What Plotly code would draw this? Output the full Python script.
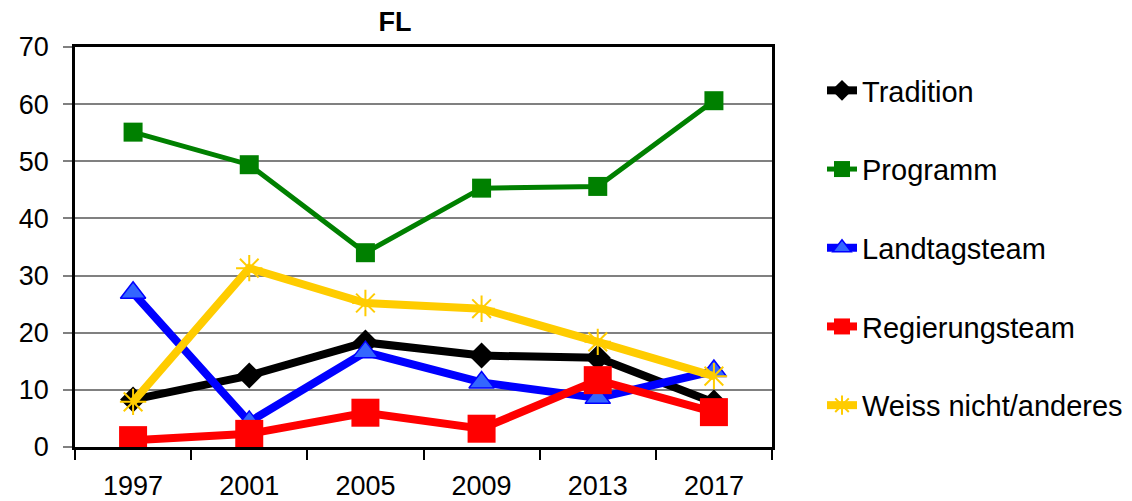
import plotly.graph_objects as go

years = ["1997", "2001", "2005", "2009", "2013", "2017"]
tradition = [8.3, 12.5, 18.3, 16.0, 15.6, 7.8]
programm = [55.1, 49.4, 34.0, 45.3, 45.6, 60.6]
landtagsteam = [27.0, 4.4, 16.6, 11.3, 8.6, 13.3]
regierungsteam = [1.2, 2.3, 6.0, 3.2, 11.7, 6.1]
weiss = [7.9, 31.3, 25.2, 24.2, 18.4, 12.4]

series = [
    ("Tradition", tradition, dict(color="#000000", width=8),
     dict(symbol="diamond", size=20, color="#000000")),
    ("Programm", programm, dict(color="#008000", width=5),
     dict(symbol="square", size=19, color="#008000")),
    ("Landtagsteam", landtagsteam, dict(color="#0000ff", width=8),
     dict(symbol="triangle-up", size=22, color="#3366ff", line=dict(color="#0000ff", width=1.5))),
    ("Regierungsteam", regierungsteam, dict(color="#ff0000", width=8),
     dict(symbol="square", size=28, color="#ff0000")),
    ("Weiss nicht/anderes", weiss, dict(color="#ffcc00", width=8),
     dict(symbol="asterisk-open", size=22, color="#ffcc00", line=dict(color="#ffcc00", width=2))),
]

fig = go.Figure()
for i, (name, vals, line, marker) in enumerate(series):
    fig.add_trace(go.Scatter(x=years, y=vals, name=name, mode="lines+markers",
                             line=line, marker=marker, legendgroup=f"g{i}"))

FONT = "Liberation Sans"
# page body has an 8px margin, so the figure is drawn 8px right and down
W, H = 1124, 493
fig.update_layout(
    width=W, height=H,
    margin=dict(l=67, r=360, t=39, b=54, autoexpand=False),
    paper_bgcolor="white", plot_bgcolor="white",
    font=dict(family=FONT, color="#000000"),
    title=dict(text="<b>FL</b>", x=(395 - 8) / W, xanchor="center", y=1 - (22 - 8) / H, yanchor="middle",
               font=dict(size=27, family=FONT)),
    showlegend=True,
    legend=dict(x=(822 - 75) / 697, xanchor="left", y=1 - (91 - 47 - 26) / 400, yanchor="top",
                font=dict(size=29, family=FONT), tracegroupgap=38,
                bgcolor="rgba(0,0,0,0)", itemsizing="trace"),
    xaxis=dict(type="category", range=[-0.5, 5.5], showgrid=False,
               showline=True, linecolor="#000000", linewidth=2.5, mirror=True,
               ticks="outside", ticklen=10, tickcolor="#000000", tickwidth=1.5,
               tickson="boundaries", tickfont=dict(size=27, family=FONT),
               ticklabelstandoff=13),
    yaxis=dict(range=[0, 70], dtick=10, showgrid=True, gridcolor="#808080", gridwidth=1.5,
               showline=True, linecolor="#000000", linewidth=2.5, mirror=True,
               ticks="outside", ticklen=9, tickcolor="#808080", tickwidth=1.5,
               tickfont=dict(size=27, family=FONT), ticklabelstandoff=9, zeroline=False),
)
fig.write_html("out.html")
